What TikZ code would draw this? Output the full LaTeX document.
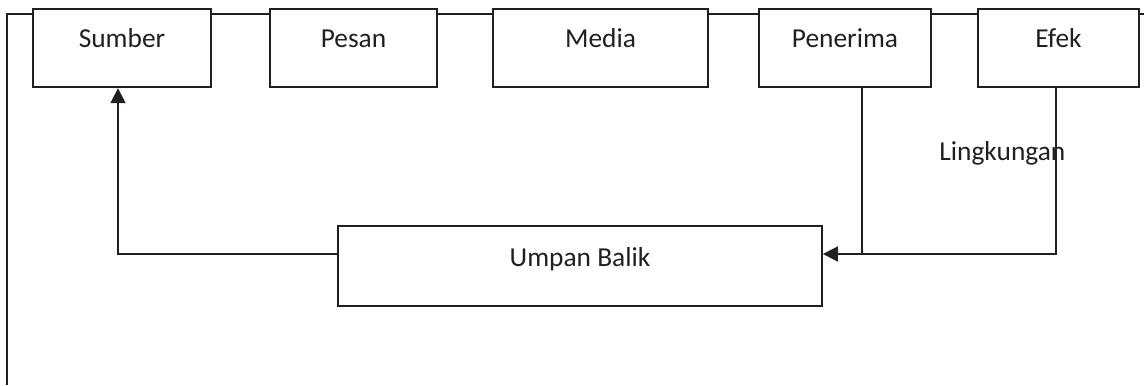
\documentclass[tikz,border=0pt]{standalone}
\usepackage{fontspec}
\setmainfont{Carlito}
\usetikzlibrary{arrows.meta}
\definecolor{ink}{RGB}{35,31,32}
\begin{document}
\begin{tikzpicture}[x=0.5pt,y=-0.5pt,
 every node/.style={font=\fontsize{13.7}{16}\selectfont, text=ink},
 box/.style={draw=ink, fill=white, line width=0.9pt, inner sep=0pt, text height=10pt, text depth=11pt, minimum height=39pt},
 conn/.style={draw=ink, line width=0.9pt},
 arr/.style={conn, -{Triangle[length=7.5pt,width=7.5pt]}}]
\useasboundingbox (0,0) rectangle (1144,385);
\coordinate (tr) at (1144,14);
\coordinate (tl) at (7,14);
\coordinate (bl) at (7,385);
\draw[conn] (tr) -- (tl) -- (bl);
\node[box, minimum width=89pt] (sumber) at (122,48.3) {Sumber};
\node[box, minimum width=83.5pt] (pesan) at (353.5,48.3) {Pesan};
\node[box, minimum width=107.5pt] (media) at (600.5,48.3) {Media};
\node[box, minimum width=86pt] (penerima) at (845,48.3) {Penerima};
\node[box, minimum width=80.5pt] (efek) at (1058.5,48.3) {Efek};
\node[box, minimum width=242pt, minimum height=40pt, text depth=10pt] (ub) at (580,266) {Umpan Balik};
\node[anchor=base west, inner sep=0pt] (ling) at (939,160) {Lingkungan};
\coordinate (pj) at (862,254);
\coordinate (ej) at (1056,254);
\coordinate (sj) at (118,254);
\draw[conn] (penerima.south -| pj) -- (pj);
\draw[arr] (efek.south -| ej) -- (ej) -- (ub.east |- ej);
\draw[arr] (ub.west |- sj) -- (sj) -- (sumber.south -| sj);
\end{tikzpicture}
\end{document}
